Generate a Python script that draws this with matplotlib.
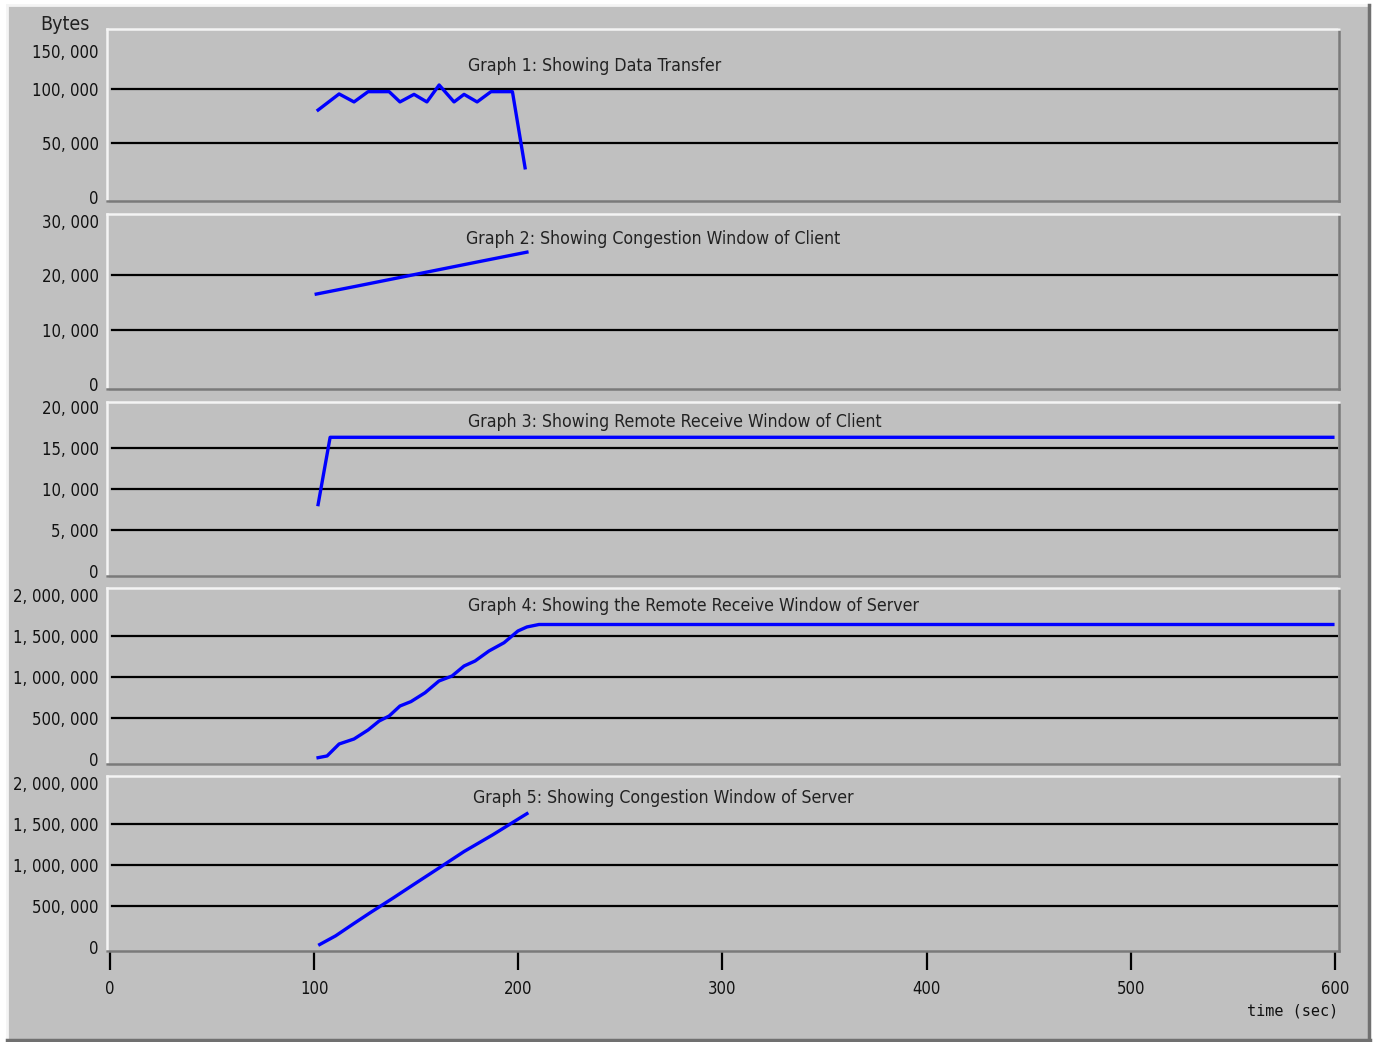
import matplotlib
matplotlib.use("Agg")
import matplotlib.pyplot as plt
import matplotlib.transforms as mtransforms
from matplotlib.patches import Rectangle
from matplotlib.lines import Line2D
from matplotlib.ticker import FuncFormatter

# ---------------- data ----------------
g1_t = [101.9, 112.2, 119.5, 126.4, 136.7, 142.0, 148.9, 155.2, 161.2, 168.5, 173.4, 179.8, 186.6, 197.1, 203.3]
g1_v = [80500, 95400, 88000, 97500, 97500, 88000, 95000, 88000, 103700, 88000, 95000, 88000, 97500, 97500, 27000]

g2_t = [101.0, 120.0, 140.0, 160.0, 180.0, 204.2]
g2_v = [16500, 17900, 19400, 20900, 22400, 24200]

g3_t = [101.9, 107.8, 599.0]
g3_v = [8100, 16300, 16300]

g4_t = [101.9, 106.3, 112.2, 119.5, 126.4, 131.8, 136.7, 142.0, 147.4, 154.3, 161.1, 167.5,
        173.4, 178.8, 185.6, 193.0, 199.8, 204.2, 210.1, 599.0]
g4_v = [16000, 37000, 183000, 244000, 354000, 463000, 524000, 646000, 700000, 808000, 951000, 1012000,
        1134000, 1195000, 1317000, 1418000, 1561000, 1610000, 1640000, 1640000]

g5_t = [102.7, 110.5, 119.3, 127.8, 138.6, 149.9, 162.1, 173.4, 187.6, 204.2]
g5_v = [30000, 136000, 284000, 424000, 596000, 781000, 979000, 1164000, 1370000, 1626000]

titles = ["Graph 1: Showing Data Transfer",
          "Graph 2: Showing Congestion Window of Client",
          "Graph 3: Showing Remote Receive Window of Client",
          "Graph 4: Showing the Remote Receive Window of Server",
          "Graph 5: Showing Congestion Window of Server"]
yticks = [[0, 50000, 100000, 150000],
          [0, 10000, 20000, 30000],
          [0, 5000, 10000, 15000, 20000],
          [0, 500000, 1000000, 1500000, 2000000],
          [0, 500000, 1000000, 1500000, 2000000]]
xticks = [0, 100, 200, 300, 400, 500, 600]

series = [(g1_t, g1_v), (g2_t, g2_v), (g3_t, g3_v), (g4_t, g4_v), (g5_t, g5_v)]

# ---------------- layout ----------------
W, H = 1374, 1042
BG = "#c0c0c0"
fig = plt.figure(figsize=(W / 100, H / 100), dpi=100, facecolor="white")

def fx(px):
    return px / W

def fy(py):
    return 1 - py / H

# outer beveled panel (behind axes)
fig.patches.append(Rectangle((fx(7), fy(1040)), fx(1370) - fx(7), fy(5) - fy(1040),
                             transform=fig.transFigure, facecolor=BG, edgecolor="none", zorder=-10))
fig.lines.append(Line2D([fx(7), fx(1370)], [fy(5), fy(5)], transform=fig.transFigure, color="#f4f4f4", lw=2, zorder=-5))
fig.lines.append(Line2D([fx(7), fx(7)], [fy(5), fy(1040)], transform=fig.transFigure, color="#f4f4f4", lw=2, zorder=-5))
fig.lines.append(Line2D([fx(1369), fx(1369)], [fy(5), fy(1040)], transform=fig.transFigure, color="#707070", lw=2.5, zorder=-5))
fig.lines.append(Line2D([fx(7), fx(1370)], [fy(1040), fy(1040)], transform=fig.transFigure, color="#707070", lw=2.5, zorder=-5))

panels = [(29, 201), (214, 389), (402, 576), (588, 764), (776, 951)]
ylims = [(-3700, 155500), (-920, 31200), (-600, 20600), (-61000, 2085000), (-49000, 2085000)]
title_pos = [(0.293, 0.785), (0.291, 0.86), (0.293, 0.887), (0.293, 0.897), (0.297, 0.877)]

XL, XR = 107, 1339
MONO = ["DejaVu Sans Mono"]
COND = dict(family="DejaVu Sans", stretch="condensed")

fmt = FuncFormatter(lambda v, p: "{:,}".format(int(round(v))).replace(",", ", "))

for i, ((top, bot), (t, v)) in enumerate(zip(panels, series)):
    ax = fig.add_axes([fx(XL), fy(bot), fx(XR) - fx(XL), fy(top) - fy(bot)])
    ax.set_facecolor(BG)
    ax.set_xlim(-1.5, 602)
    ax.set_ylim(*ylims[i])
    ax.set_yticks(yticks[i])
    ax.yaxis.set_major_formatter(fmt)
    ax.tick_params(axis="y", length=0, pad=6, labelsize=12, labelcolor="#111111")
    labs = ax.get_yticklabels()
    for lab in labs:
        lab.set_fontfamily(COND["family"])
        lab.set_fontstretch(COND["stretch"])
    if i == 0:
        # top label sits lower in the reference
        off = mtransforms.ScaledTranslation(0, -16 / 100, fig.dpi_scale_trans)
        labs[-1].set_transform(labs[-1].get_transform() + off)
    # gridlines at inner ticks only
    for yt in yticks[i][1:-1]:
        ax.axhline(yt, xmin=0.004, xmax=0.998, color="black", lw=1.6, zorder=1)
    ax.plot(t, v, color="#0000ff", lw=2.4, zorder=3, solid_joinstyle="round")
    ax.text(title_pos[i][0], title_pos[i][1], titles[i], transform=ax.transAxes,
            ha="left", va="center", fontsize=12.7, family="DejaVu Sans", fontstretch="condensed",
            color="#222222")
    # bevel frame
    ax.spines["top"].set_color("#f4f4f4")
    ax.spines["left"].set_color("#f4f4f4")
    ax.spines["bottom"].set_color("#7a7a7a")
    ax.spines["right"].set_color("#7a7a7a")
    for s in ax.spines.values():
        s.set_linewidth(1.8)
    if i < 4:
        ax.set_xticks([])
    else:
        ax.set_xticks(xticks)
        ax.tick_params(axis="x", direction="out", length=14, width=1.6, pad=7,
                       labelsize=12, color="black", labelcolor="#111111")
        for lab in ax.get_xticklabels():
            lab.set_fontfamily(COND["family"])
            lab.set_fontstretch(COND["stretch"])

fig.text(fx(65), fy(25), "Bytes", ha="center", va="center", fontsize=14, family="DejaVu Sans",
         fontstretch="condensed", color="#222222")
fig.text(fx(1338), fy(1011), "time (sec)", ha="right", va="center", fontsize=11, family=MONO, color="#111111")

fig.savefig("out.png", dpi=100, facecolor="white")
